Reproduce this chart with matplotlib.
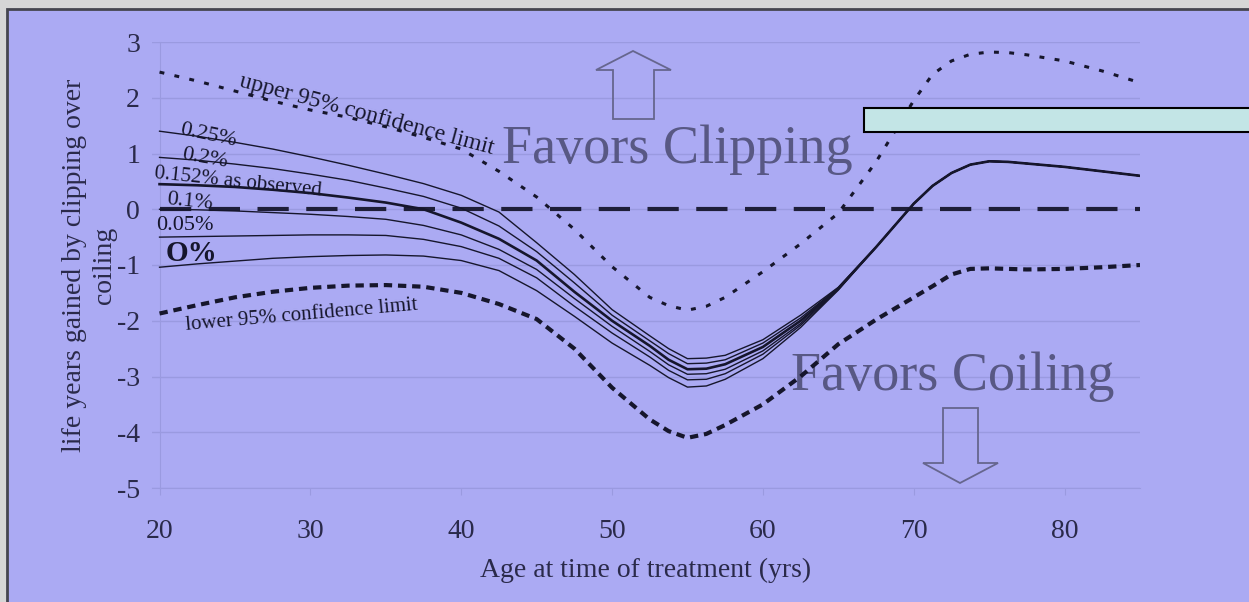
import matplotlib
matplotlib.use("Agg")
import matplotlib.pyplot as plt
from matplotlib.patches import Rectangle, Polygon

ages = [20, 22.5, 25, 27.5, 30, 32.5, 35, 37.5, 40, 42.5, 45, 47.5, 50, 52.5, 53.75,
        55, 56.25, 57.5, 60, 62.5, 65, 67.5, 70, 71.25, 72.5, 73.75, 75, 76.25,
        77.5, 80, 82.5, 85]

# all rupture-rate curves merge into one line from 67.5 on
merged_tail = [-0.68, 0.10, 0.42, 0.65, 0.80, 0.86, 0.85, 0.82, 0.76, 0.68, 0.60]

rate_025 = [1.40, 1.31, 1.20, 1.08, 0.94, 0.79, 0.63, 0.46, 0.25, -0.05, -0.60, -1.17,
            -1.80, -2.27, -2.50, -2.68, -2.67, -2.62, -2.34, -1.90, -1.40] + merged_tail
rate_020 = [0.93, 0.88, 0.81, 0.73, 0.63, 0.52, 0.38, 0.23, 0.02, -0.30, -0.76, -1.32,
            -1.90, -2.36, -2.59, -2.77, -2.76, -2.70, -2.40, -1.95, -1.41] + merged_tail
rate_0152 = [0.45, 0.43, 0.40, 0.35, 0.29, 0.21, 0.12, 0.00, -0.24, -0.53, -0.92, -1.48,
             -2.00, -2.45, -2.70, -2.87, -2.86, -2.78, -2.47, -2.00, -1.42] + merged_tail
rate_010 = [0.00, -0.01, -0.03, -0.06, -0.09, -0.13, -0.18, -0.29, -0.46, -0.72, -1.08, -1.60,
            -2.10, -2.55, -2.79, -2.96, -2.95, -2.87, -2.54, -2.05, -1.43] + merged_tail
rate_005 = [-0.50, -0.49, -0.48, -0.47, -0.46, -0.46, -0.47, -0.54, -0.67, -0.88, -1.23, -1.74,
            -2.22, -2.65, -2.89, -3.06, -3.05, -2.95, -2.60, -2.08, -1.44] + merged_tail
rate_000 = [-1.04, -0.98, -0.93, -0.88, -0.85, -0.83, -0.82, -0.84, -0.92, -1.10, -1.46, -1.92,
            -2.40, -2.80, -3.02, -3.19, -3.17, -3.05, -2.68, -2.12, -1.45] + merged_tail

upper_ci = [2.46, 2.30, 2.12, 1.94, 1.78, 1.65, 1.48, 1.29, 1.08, 0.68, 0.22, -0.36,
            -1.03, -1.58, -1.73, -1.81, -1.74, -1.58, -1.12, -0.62, -0.07, 0.85, 1.95,
            2.42, 2.66, 2.78, 2.82, 2.81, 2.77, 2.66, 2.48, 2.27]
lower_ci = [-1.87, -1.72, -1.58, -1.48, -1.41, -1.37, -1.36, -1.39, -1.50, -1.70, -1.97, -2.50,
            -3.20, -3.77, -3.98, -4.10, -4.03, -3.87, -3.50, -3.00, -2.42, -1.98, -1.58,
            -1.38, -1.17, -1.07, -1.06, -1.07, -1.08, -1.07, -1.04, -1.00]

x_ticks = [20, 30, 40, 50, 60, 70, 80]
y_ticks = [-5, -4, -3, -2, -1, 0, 1, 2, 3]

W, H = 1249, 602
blue = "#abaaf3"
ink = "#16162c"
faint = "#9a9ae0"
axis_txt = "#2a2a4a"
big_txt = "#585884"
plt.rcParams["font.family"] = ["Liberation Serif", "DejaVu Serif"]
plt.rcParams["axes.unicode_minus"] = False

fig = plt.figure(figsize=(W / 100, H / 100), dpi=100, facecolor="#d6d6d6")

# blue slide panel with dark frame on top/left
panel = Rectangle((7 / W, -0.1), 1.2, 1 - 9 / H + 0.1, transform=fig.transFigure,
                  facecolor=blue, edgecolor="#45454f", lw=2, zorder=-5)
fig.patches.append(panel)

ax = fig.add_axes([152 / W, 1 - 488 / H, 988 / W, 446 / H])
ax.set_facecolor("none")
ax.set_xlim(19.5, 85)
ax.set_ylim(-5, 3)

ax.set_yticks(y_ticks)
ax.set_xticks(x_ticks)
ax.grid(axis="y", color=faint, lw=1)
ax.set_axisbelow(True)
for s in ["top", "right"]:
    ax.spines[s].set_visible(False)
ax.spines["left"].set_position(("data", 20))
ax.spines["left"].set_color(faint)
ax.spines["bottom"].set_color(faint)
ax.tick_params(axis="y", length=0, pad=14, labelsize=20, labelcolor=axis_txt)
ax.tick_params(axis="x", length=5, color=faint, pad=17, labelsize=20, labelcolor=axis_txt)

ax.set_xlabel("Age at time of treatment (yrs)", fontsize=20, color=axis_txt, labelpad=10)
ax.set_ylabel("life years gained by clipping over\ncoiling", fontsize=20, color=axis_txt,
              linespacing=1.3)
ax.yaxis.set_label_coords(-0.035, 0.5)

# zero reference
ax.hlines(0, ages[0], ages[-1], color="#1e1e38", lw=3, linestyles=(0, (7.5, 4.2)), zorder=3)

# rupture-rate family
for vals in [rate_025, rate_020, rate_010, rate_005, rate_000]:
    ax.plot(ages, vals, color=ink, lw=1.0, zorder=4, solid_joinstyle="round")
ax.plot(ages, rate_0152, color=ink, lw=1.9, zorder=5, solid_joinstyle="round")

ax.plot(ages, upper_ci, color=ink, lw=2.2, linestyle=(0, (1.6, 3.4)), zorder=4)
ax.plot(ages, lower_ci, color=ink, lw=3.0, linestyle=(0, (2.0, 1.4)), zorder=4)

# curve labels
lab = dict(color=ink, ha="center", va="center", rotation_mode="anchor")
ax.text(33.7, 1.70, "upper 95% confidence limit", fontsize=17, rotation=-15, **lab)
ax.text(23.2, 1.33, "0.25%", fontsize=16, rotation=-12, **lab)
ax.text(23.0, 0.91, "0.2%", fontsize=16, rotation=-10, **lab)
ax.text(25.2, 0.48, "0.152% as observed", fontsize=15, rotation=-6, **lab)
ax.text(22.0, 0.13, "0.1%", fontsize=16, rotation=-6, **lab)
ax.text(21.7, -0.29, "0.05%", fontsize=16, **lab)
ax.text(22.1, -0.79, "O%", fontsize=21, fontweight="bold", **lab)
ax.text(29.4, -1.90, "lower 95% confidence limit", fontsize=15, rotation=5, **lab)

ax.text(54.3, 0.83, "Favors Clipping", fontsize=39, color=big_txt, ha="center", va="baseline")
ax.text(72.6, -3.25, "Favors Coiling", fontsize=39, color=big_txt, ha="center", va="baseline")


# hollow arrows (pixel outlines)
def px(pts):
    return [(x / W, 1 - y / H) for x, y in pts]


up = px([(613, 119), (613, 70), (596, 70), (633, 51), (671, 70), (654, 70), (654, 119)])
down = px([(943, 408), (978, 408), (978, 463), (998, 463), (960, 483), (923, 463), (943, 463)])
for shape in [up, down]:
    fig.patches.append(Polygon(shape, closed=True, transform=fig.transFigure,
                               facecolor="none", edgecolor="#66668e", lw=1.3, zorder=3))

# pale cyan bar on the right
fig.patches.append(Rectangle((864 / W, 1 - 132 / H), 0.4, 24 / H, transform=fig.transFigure,
                             facecolor="#c3e5e6", edgecolor="black", lw=1.5, zorder=6))

fig.savefig("out.png", dpi=100, facecolor=fig.get_facecolor())
